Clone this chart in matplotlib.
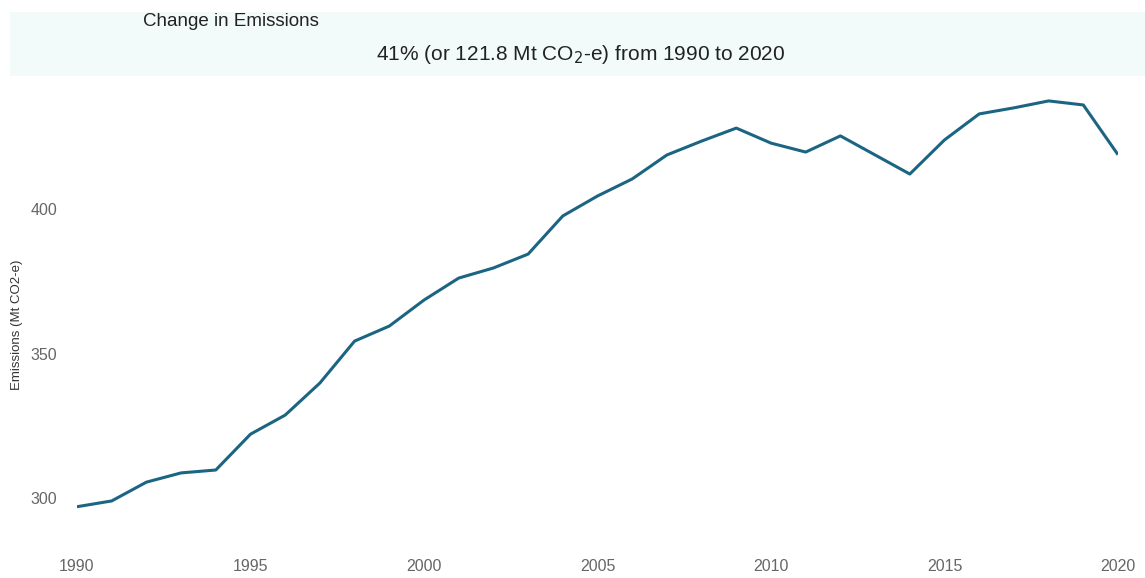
import matplotlib.pyplot as plt
from matplotlib.patches import Rectangle

plt.rcParams['font.family'] = ['Liberation Sans', 'DejaVu Sans']

# annual emissions, Mt CO2-e
years = list(range(1990, 2021))
emissions = [297.0, 299.0, 305.5, 308.7, 309.7, 322.1, 328.7, 339.8, 354.3, 359.5,
             368.5, 376.1, 379.6, 384.4, 397.6, 404.5, 410.4, 418.7, 423.5, 428.0,
             422.8, 419.7, 425.3, 418.7, 412.1, 423.9, 432.9, 435.0, 437.4, 436.0,
             418.8]
xticks = [1990, 1995, 2000, 2005, 2010, 2015, 2020]
yticks = [300, 350, 400]

W, H = 1145, 578
fig = plt.figure(figsize=(W / 100, H / 100), dpi=100)

# header band
fig.patches.append(Rectangle((10 / W, 1 - 76 / H), (W - 10) / W, 64 / H,
                             transform=fig.transFigure, facecolor='#F2FBFA',
                             edgecolor='none', zorder=0))
fig.text(143 / W, 1 - 22 / H, 'Change in Emissions', fontsize=13.5,
         color='#222222', ha='left', va='center')
fig.text(581 / W, 1 - 54 / H, '41% (or 121.8 Mt CO$_2$-e) from 1990 to 2020',
         fontsize=15, color='#222222', ha='center', va='center')

ax = fig.add_axes([77 / W, (H - 541.4) / H, (1118 - 77) / W, (541.4 - 93.4) / H])
ax.plot(years, emissions, color='#1C6582', linewidth=2.2, solid_capstyle='butt')
ax.set_xlim(1990, 2020)
ax.set_ylim(285, 440)
ax.set_xticks(xticks)
ax.set_yticks(yticks)
ax.tick_params(length=0, labelsize=11.5, labelcolor='#666666')
ax.tick_params(axis='x', pad=13)
ax.tick_params(axis='y', pad=14)
for s in ax.spines.values():
    s.set_visible(False)
ax.patch.set_alpha(0)

fig.text(17 / W, 1 - 325 / H, 'Emissions (Mt CO2-e)', rotation=90,
         fontsize=9.5, color='#333333', ha='center', va='center')

fig.savefig('out.png', dpi=100)
